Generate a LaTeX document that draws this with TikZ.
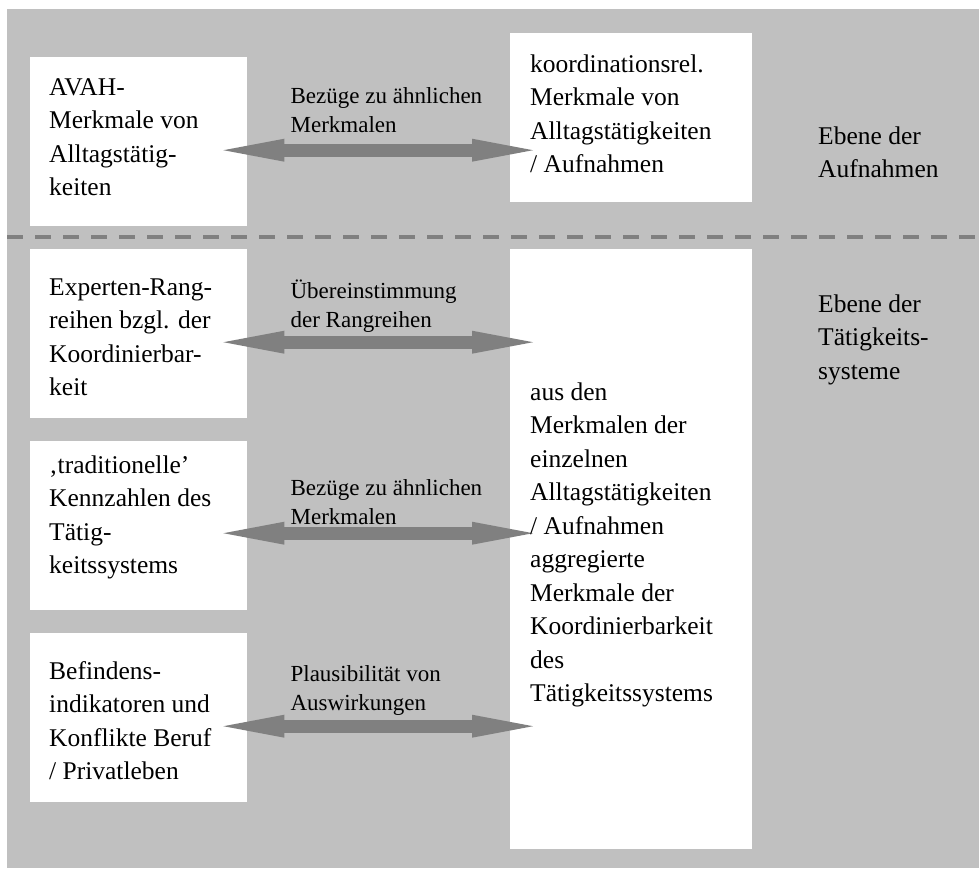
\documentclass[tikz,border=0pt]{standalone}
\usepackage{fontspec}
\setmainfont{Liberation Serif}
\usetikzlibrary{arrows.meta,calc}

\definecolor{panelgray}{HTML}{C0C0C0}
\definecolor{arrowgray}{HTML}{808080}

% multi-line block whose baseline is that of its first line
\newcommand\textblock[1]{\begin{tabular}[t]{@{}l@{}}#1\end{tabular}}

\tikzset{
  whitebox/.style={fill=white, draw=none, inner sep=0pt, anchor=north west,
                   minimum width=#1},
  boxtext/.style={inner sep=0pt, anchor=base west,
                  font=\fontsize{25.5}{33.5}\selectfont},
  arrowtext/.style={inner sep=0pt, anchor=base west,
                  font=\fontsize{23}{29}\selectfont},
  fattip/.tip={Triangle[length=61pt,width=23pt,line width=0pt]},
  fatarrow/.style={draw=arrowgray, fill=arrowgray, line width=13pt, fattip-fattip},
  levelline/.style={draw=arrowgray, line width=4pt, dash pattern=on 16pt off 12pt}
}

\begin{document}
\begin{tikzpicture}[x=1pt, y=-1pt]
  \useasboundingbox (0,0) rectangle (979,868);

  % background panel
  \fill[panelgray] (7,9) rectangle (979,868);

  % boundary between the two levels
  \coordinate (lineL) at (7,237);
  \coordinate (lineR) at (979,237);
  \draw[levelline] (lineL) -- (lineR);

  % white boxes
  \node[whitebox=217pt, minimum height=169pt] (avah) at (30,57) {};
  \node[whitebox=242pt, minimum height=169pt] (koord) at (510,33) {};
  \node[whitebox=217pt, minimum height=169pt] (exp) at (30,249) {};
  \node[whitebox=217pt, minimum height=169pt] (trad) at (30,441) {};
  \node[whitebox=217pt, minimum height=169pt] (bef) at (30,633) {};
  \node[whitebox=242pt, minimum height=600pt] (aggr) at (510,249) {};

  % double arrows between the boxes
  \draw[fatarrow] ($(avah.east)+(-24,8.5)$) -- ($(avah.east -| koord.west)+(23,8.5)$);
  \draw[fatarrow] ($(exp.east)+(-24,8.5)$) -- ($(exp.east -| aggr.west)+(23,8.5)$);
  \draw[fatarrow] ($(trad.east)+(-24,7.5)$) -- ($(trad.east -| aggr.west)+(23,7.5)$);
  \draw[fatarrow] ($(bef.east)+(-24,8.5)$) -- ($(bef.east -| aggr.west)+(23,8.5)$);

  % arrow labels
  \node[arrowtext] (lab1) at ($(avah.north east)+(43,46)$)
    {\textblock{Bezüge zu ähnlichen\\Merkmalen}};
  \node[arrowtext] (lab2) at ($(exp.north east)+(43,49)$)
    {\textblock{Übereinstimmung\\der Rangreihen}};
  \node[arrowtext] (lab3) at ($(trad.north east)+(43,54)$)
    {\textblock{Bezüge zu ähnlichen\\Merkmalen}};
  \node[arrowtext] (lab4) at ($(bef.north east)+(43,48)$)
    {\textblock{Plausibilität von\\Auswirkungen}};

  % box texts
  \node[boxtext] (avahT) at ($(avah.north west)+(19,38)$)
    {\textblock{AVAH-\\Merkmale von\\Alltagstätig-\\keiten}};
  \node[boxtext] (koordT) at ($(koord.north west)+(20,39)$)
    {\textblock{koordinationsrel.\\Merkmale von\\Alltagstätigkeiten\\/ Aufnahmen}};
  \node[boxtext] (expT) at ($(exp.north west)+(19,46)$)
    {\textblock{Experten-Rang-\\reihen bzgl. der\\Koordinierbar-\\keit}};
  \node[boxtext] (tradT) at ($(trad.north west)+(19,32)$)
    {\textblock{‚traditionelle’\\Kennzahlen des\\Tätig-\\keitssystems}};
  \node[boxtext] (befT) at ($(bef.north west)+(19,46)$)
    {\textblock{Befindens-\\indikatoren und\\Konflikte Beruf\\/ Privatleben}};
  \node[boxtext] (aggrT) at ($(aggr.north west)+(20,151)$)
    {\textblock{aus den\\Merkmalen der\\einzelnen\\Alltagstätigkeiten\\/ Aufnahmen\\aggregierte\\Merkmale der\\Koordinierbarkeit\\des\\Tätigkeitssystems}};

  % level names
  \node[boxtext] (lvl1) at (818,144) {\textblock{Ebene der\\Aufnahmen}};
  \node[boxtext] (lvl2) at (818,312) {\textblock{Ebene der\\Tätigkeits-\\systeme}};
\end{tikzpicture}
\end{document}
